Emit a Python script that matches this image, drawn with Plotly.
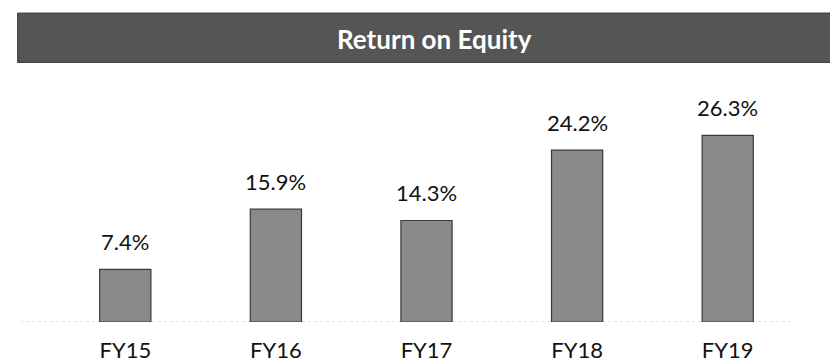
import plotly.graph_objects as go

# Return on equity by fiscal year (%)
years = ["FY15", "FY16", "FY17", "FY18", "FY19"]
roe = [7.4, 15.9, 14.3, 24.2, 26.3]
roe_labels = ["7.4%", "15.9%", "14.3%", "24.2%", "26.3%"]

FONT = "Lato, 'Open Sans', sans-serif"

fig = go.Figure()
fig.add_trace(go.Bar(
    x=years,
    y=roe,
    marker=dict(color="#8a8a8a", line=dict(color="#3a3a3a", width=1.2)),
    width=0.34,
    hoverinfo="skip",
))

# value labels above each bar
for yr, v, lab in zip(years, roe, roe_labels):
    fig.add_annotation(
        x=yr, y=v, text=lab, showarrow=False,
        yanchor="bottom", yshift=12,
        font=dict(family=FONT, size=22, color="#111111"),
    )

# header band with the chart title
fig.add_shape(
    type="rect", xref="paper", yref="paper",
    x0=-0.043, x1=1.04, y0=1.03, y1=1.226,
    fillcolor="#555555", line=dict(color="#3c3c3c", width=1),
    layer="below",
)
fig.add_annotation(
    xref="paper", yref="paper", x=0.511, y=1.123,
    text="<b>Return on Equity</b>", showarrow=False,
    xanchor="center", yanchor="middle",
    font=dict(family=FONT, size=26, color="#ffffff"),
)

# faint dotted baseline
fig.add_shape(
    type="line", xref="paper", yref="y",
    x0=-0.04, x1=0.985, y0=0, y1=0,
    line=dict(color="#c8c8c8", width=1.2, dash="dot"),
    layer="below",
)

fig.update_layout(
    width=830, height=364,
    margin=dict(l=50, r=27, t=70, b=42),
    paper_bgcolor="#ffffff",
    plot_bgcolor="#ffffff",
    showlegend=False,
    xaxis=dict(
        showgrid=False, zeroline=False, showline=False,
        ticks="", ticklabelstandoff=13, automargin=False,
        tickfont=dict(family=FONT, size=22, color="#111111"),
    ),
    yaxis=dict(
        range=[0, 35.5], visible=False, showgrid=False, zeroline=False,
        automargin=False,
    ),
)

fig.write_html("out.html")
